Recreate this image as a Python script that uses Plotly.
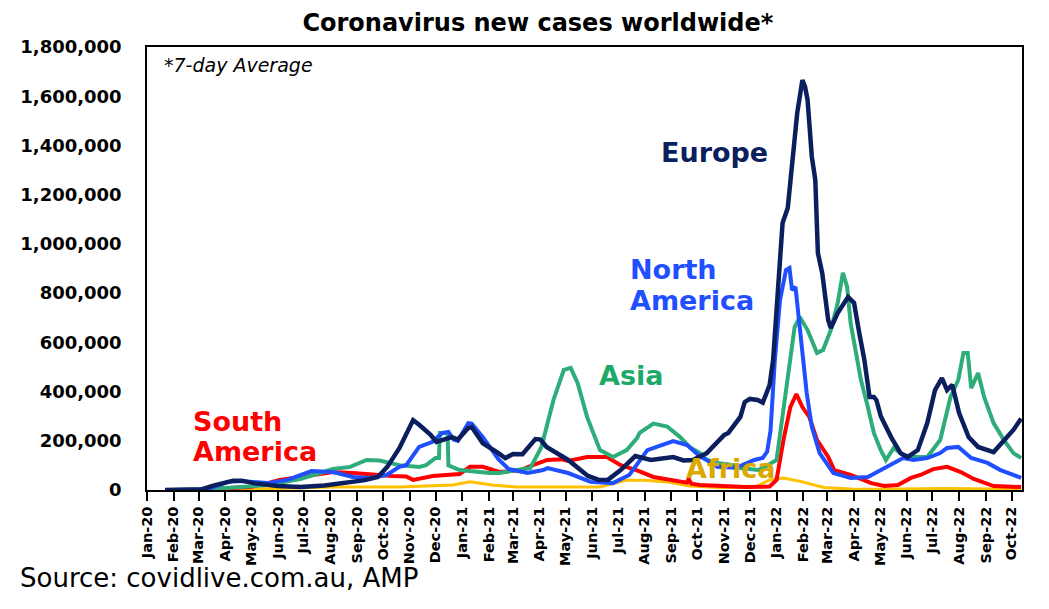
import numpy as np
import plotly.graph_objects as go

# 7-day average new cases, thousands
europe_dates = ['2020-01-22', '2020-02-20', '2020-03-05', '2020-03-18', '2020-04-01', '2020-04-10',
                '2020-04-20', '2020-05-05', '2020-06-01', '2020-06-27', '2020-07-25', '2020-08-20',
                '2020-09-10', '2020-09-25', '2020-10-06', '2020-10-20', '2020-11-05', '2020-11-12',
                '2020-11-25', '2020-12-02', '2020-12-15', '2020-12-20', '2020-12-27', '2021-01-08',
                '2021-01-12', '2021-01-25', '2021-02-12', '2021-02-20', '2021-03-01', '2021-03-12',
                '2021-03-27', '2021-04-02', '2021-04-09', '2021-05-04', '2021-05-27', '2021-06-08',
                '2021-06-19', '2021-07-04', '2021-07-21', '2021-08-08', '2021-09-03', '2021-09-15',
                '2021-09-26', '2021-10-04', '2021-10-12', '2021-11-01', '2021-11-06', '2021-11-20',
                '2021-11-25', '2021-12-01', '2021-12-10', '2021-12-16', '2021-12-24', '2021-12-28',
                '2022-01-03', '2022-01-08', '2022-01-14', '2022-01-20', '2022-01-25', '2022-01-31',
                '2022-02-03', '2022-02-06', '2022-02-11', '2022-02-15', '2022-02-18', '2022-02-23',
                '2022-03-02', '2022-03-05', '2022-03-13', '2022-03-25', '2022-04-01', '2022-04-07',
                '2022-04-13', '2022-04-19', '2022-04-24', '2022-04-27', '2022-05-02', '2022-05-14',
                '2022-05-25', '2022-06-02', '2022-06-14', '2022-06-25', '2022-07-04', '2022-07-12',
                '2022-07-18', '2022-07-24', '2022-08-01', '2022-08-12', '2022-08-23', '2022-09-10',
                '2022-09-22', '2022-10-03', '2022-10-12']
europe_vals = [0, 0.5, 3, 18, 33, 38,
               38, 27, 16, 12, 18, 28,
               40, 53, 94, 170, 284, 265,
               225, 195, 211, 215, 205, 252,
               256, 190, 150, 130, 146, 145,
               207, 205, 175, 122, 57, 42,
               41, 81, 138, 122, 134, 120,
               122, 134, 150, 223, 232, 297,
               357, 370, 366, 355, 427, 528,
               800, 1085, 1146, 1340, 1532, 1665,
               1640, 1585, 1353, 1260, 963, 882,
               690, 658, 719, 784, 760, 638,
               528, 378, 378, 365, 300, 215,
               150, 134, 162, 272, 406, 455,
               406, 427, 313, 215, 175, 154,
               203, 244, 290]

namerica_dates = ['2020-01-22', '2020-03-01', '2020-03-15', '2020-03-26', '2020-04-04', '2020-04-19',
                  '2020-05-20', '2020-06-12', '2020-07-10', '2020-08-04', '2020-08-27', '2020-09-15',
                  '2020-10-05', '2020-10-20', '2020-10-28', '2020-11-12', '2020-11-27', '2020-12-09',
                  '2020-12-16', '2020-12-22', '2020-12-27', '2021-01-08', '2021-01-12', '2021-01-25',
                  '2021-02-12', '2021-02-24', '2021-03-18', '2021-04-05', '2021-04-10', '2021-05-04',
                  '2021-05-30', '2021-06-25', '2021-07-14', '2021-08-04', '2021-09-03', '2021-09-19',
                  '2021-10-05', '2021-10-12', '2021-10-24', '2021-11-15', '2021-12-06', '2021-12-16',
                  '2021-12-21', '2021-12-25', '2021-12-30', '2022-01-05', '2022-01-12', '2022-01-16',
                  '2022-01-19', '2022-01-23', '2022-01-27', '2022-01-31', '2022-02-05', '2022-02-11',
                  '2022-02-20', '2022-03-08', '2022-03-28', '2022-04-17', '2022-05-02', '2022-05-17',
                  '2022-05-28', '2022-06-09', '2022-06-25', '2022-07-10', '2022-07-18', '2022-07-31',
                  '2022-08-15', '2022-09-03', '2022-09-18', '2022-10-03', '2022-10-12']
namerica_vals = [0, 0.5, 8, 22, 33, 37,
                 28, 41, 77, 73, 53, 49,
                 61, 94, 101, 175, 195, 232,
                 236, 205, 200, 272, 270, 215,
                 125, 85, 69, 81, 89, 69,
                 33, 28, 61, 162, 199, 183,
                 134, 122, 94, 90, 122, 130,
                 155, 240, 528, 772, 894, 902,
                 813, 825, 690, 528, 394, 256,
                 150, 69, 49, 53, 81, 110,
                 130, 122, 130, 150, 171, 175,
                 130, 110, 81, 61, 49]

asia_dates = ['2020-01-22', '2020-03-01', '2020-04-10', '2020-05-20', '2020-06-27', '2020-08-04',
              '2020-08-24', '2020-09-12', '2020-09-27', '2020-10-20', '2020-11-12', '2020-11-20',
              '2020-12-01', '2020-12-05', '2020-12-06', '2020-12-15', '2020-12-16', '2020-12-29',
              '2021-02-02', '2021-02-13', '2021-03-13', '2021-03-21', '2021-04-03', '2021-04-17',
              '2021-04-29', '2021-05-07', '2021-05-15', '2021-05-26', '2021-06-10', '2021-06-25',
              '2021-07-11', '2021-07-23', '2021-07-26', '2021-08-11', '2021-08-27', '2021-09-11',
              '2021-09-22', '2021-10-04', '2021-10-12', '2021-10-24', '2021-11-12', '2021-11-20',
              '2021-12-10', '2021-12-16', '2022-01-01', '2022-01-09', '2022-01-17', '2022-01-22',
              '2022-01-28', '2022-02-06', '2022-02-17', '2022-02-24', '2022-03-05', '2022-03-13',
              '2022-03-19', '2022-03-24', '2022-03-28', '2022-04-03', '2022-04-09', '2022-04-17',
              '2022-04-24', '2022-05-02', '2022-05-08', '2022-05-17', '2022-05-28', '2022-06-09',
              '2022-06-25', '2022-07-10', '2022-07-22', '2022-07-31', '2022-08-06', '2022-08-11',
              '2022-08-15', '2022-08-23', '2022-08-30', '2022-09-10', '2022-09-22', '2022-10-03',
              '2022-10-12']
asia_vals = [0, 2, 10, 20, 45, 85,
             94, 122, 120, 101, 94, 101,
             130, 130, 232, 232, 100, 81,
             69, 69, 85, 89, 175, 366,
             488, 496, 435, 297, 162, 134,
             162, 211, 232, 270, 258, 215,
             175, 150, 122, 110, 101, 89,
             81, 89, 122, 325, 528, 662,
             703, 650, 557, 569, 650, 760,
             882, 825, 678, 557, 447, 337,
             232, 162, 122, 171, 142, 134,
             134, 203, 378, 447, 557, 557,
             414, 475, 378, 272, 203, 150,
             130]

samerica_dates = ['2020-01-22', '2020-03-01', '2020-03-23', '2020-04-30', '2020-05-20', '2020-06-03',
                  '2020-06-27', '2020-07-16', '2020-08-04', '2020-08-27', '2020-09-20', '2020-10-12',
                  '2020-10-28', '2020-11-05', '2020-11-28', '2020-12-21', '2020-12-29', '2021-01-10',
                  '2021-01-25', '2021-02-13', '2021-03-09', '2021-03-24', '2021-04-10', '2021-04-27',
                  '2021-05-04', '2021-05-26', '2021-06-18', '2021-07-04', '2021-07-23', '2021-08-11',
                  '2021-09-03', '2021-09-19', '2021-09-21', '2021-09-24', '2021-10-04', '2021-11-01',
                  '2021-11-26', '2021-12-24', '2022-01-01', '2022-01-09', '2022-01-17', '2022-01-24',
                  '2022-01-31', '2022-02-08', '2022-02-17', '2022-03-02', '2022-03-09', '2022-03-28',
                  '2022-04-21', '2022-05-06', '2022-05-22', '2022-06-06', '2022-06-17', '2022-07-02',
                  '2022-07-18', '2022-08-03', '2022-08-18', '2022-09-10', '2022-10-12']
samerica_vals = [0, 0, 5, 12, 28, 41,
                 53, 61, 73, 69, 61, 57,
                 55, 41, 57, 65, 65, 94,
                 94, 73, 80, 101, 122, 125,
                 118, 134, 134, 101, 80, 53,
                 40, 30, 45, 26, 20, 16,
                 12, 14, 41, 203, 337, 390,
                 337, 297, 203, 134, 81, 61,
                 28, 16, 20, 49, 61, 85,
                 94, 73, 45, 16, 12]

africa_dates = ['2020-01-22', '2020-04-01', '2020-05-20', '2020-06-27', '2020-08-04', '2020-10-20',
                '2020-11-27', '2020-12-21', '2021-01-10', '2021-02-05', '2021-03-05', '2021-06-10',
                '2021-07-11', '2021-07-31', '2021-08-27', '2021-09-22', '2021-10-25', '2021-12-06',
                '2021-12-24', '2022-01-09', '2022-01-31', '2022-02-25', '2022-03-28', '2022-05-01',
                '2022-07-15', '2022-10-12']
africa_vals = [0, 1, 5, 10, 12, 12,
               16, 20, 33, 20, 12, 12,
               40, 40, 33, 16, 10, 10,
               41, 49, 33, 10, 4, 3,
               6, 3]

series = [
    ('Africa', africa_dates, africa_vals, '#FFC000', 3),
    ('South America', samerica_dates, samerica_vals, '#FF0000', 4),
    ('Asia', asia_dates, asia_vals, '#2EAD7B', 4),
    ('North America', namerica_dates, namerica_vals, '#1F4FFF', 4),
    ('Europe', europe_dates, europe_vals, '#0B1F5E', 4.5),
]

FONT = 'DejaVu Sans'

fig = go.Figure()
for name, dates, vals, colour, width in series:
    fig.add_trace(go.Scatter(
        x=dates, y=np.array(vals) * 1000, mode='lines', name=name,
        line=dict(color=colour, width=width), showlegend=False
    ))

# series labels (two-line ones are split so the lines can sit close together)
labels = [
    ('Europe', '2021-10-21', 1373000, '#0B1F5E', 'center'),
    ('North', '2021-07-13', 895000, '#1F4FFF', 'left'),
    ('America', '2021-07-13', 772000, '#1F4FFF', 'left'),
    ('Asia', '2021-06-06', 467000, '#1DAA68', 'left'),
    ('South', '2020-02-21', 280000, '#FF0000', 'left'),
    ('America', '2020-02-21', 158000, '#FF0000', 'left'),
    ('Africa', '2021-09-16', 89000, '#DAA800', 'left'),
]
for text, x, y, colour, anchor in labels:
    fig.add_annotation(x=x, y=y, text=text, showarrow=False, xanchor=anchor, yanchor='middle',
                       font=dict(family=FONT, size=27, color=colour, weight='bold'))

fig.add_annotation(x=0.017, y=0.96, xref='paper', yref='paper', text='<i>*7-day Average</i>',
                   showarrow=False, xanchor='left', yanchor='middle',
                   font=dict(family=FONT, size=19, color='black'))
fig.add_annotation(x=-0.148, y=-0.199, xref='paper', yref='paper', text='Source: covidlive.com.au, AMP',
                   showarrow=False, xanchor='left', yanchor='middle',
                   font=dict(family=FONT, size=26, color='black'))

# the page body adds an 8px margin, so the figure is 8px smaller and margins shifted
fig.update_layout(
    width=1041, height=601,
    margin=dict(l=137, r=27, t=39, b=119),
    paper_bgcolor='white', plot_bgcolor='white',
    title=dict(text='Coronavirus new cases worldwide*', x=0.509, xref='container', xanchor='center',
               y=0.976, yref='container', yanchor='middle',
               font=dict(family=FONT, size=24, color='black', weight='bold')),
)
fig.update_xaxes(
    type='date', range=['2020-01-01', '2022-10-13'], dtick='M1', tick0='2020-01-01',
    tickformat='%b-%y', tickangle=-90, ticks='outside', ticklen=9, tickcolor='black', tickwidth=1.5,
    showline=True, linecolor='black', linewidth=1.5, mirror=True, showgrid=False, zeroline=False,
    tickfont=dict(family=FONT, size=14.5, color='black', weight='bold')
)
fig.update_yaxes(
    range=[0, 1800000], dtick=200000, tickformat=',', ticks='', ticklabelstandoff=20,
    showline=True, linecolor='black', linewidth=1.5, mirror=True, showgrid=False, zeroline=False,
    tickfont=dict(family=FONT, size=18, color='black', weight='bold')
)

fig.write_html('out.html')
